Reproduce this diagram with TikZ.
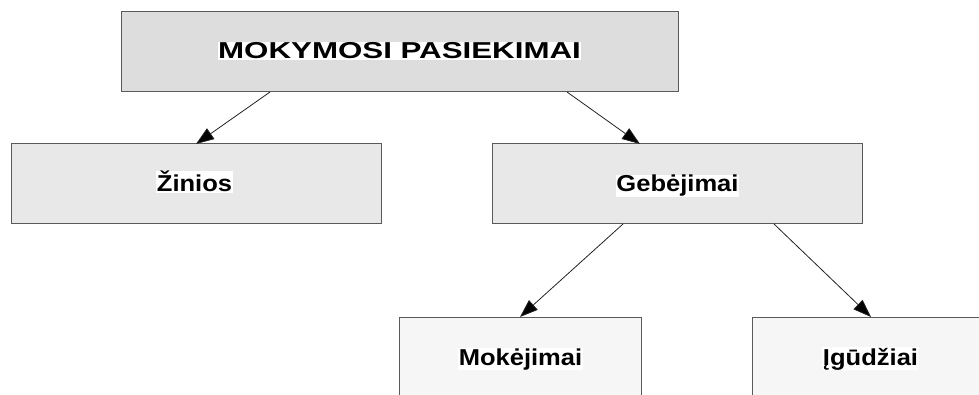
\documentclass[tikz,border=0pt]{standalone}
\usepackage{fontspec}
\setmainfont{Liberation Sans}
\usetikzlibrary{arrows.meta}
\definecolor{boxline}{HTML}{5A5A5A}
\definecolor{fillA}{HTML}{DDDDDD}
\definecolor{fillB}{HTML}{E8E8E8}
\definecolor{fillC}{HTML}{F6F6F6}
\definecolor{linkcol}{HTML}{222222}
\begin{document}
\begin{tikzpicture}[x=1pt,y=-1pt,
  box/.style={draw=boxline, line width=1pt, rectangle, inner sep=0pt, outer sep=0pt},
  lbl/.style={fill=white, inner sep=0.5pt, anchor=base,
    font=\bfseries\fontsize{23}{27}\selectfont},
  link/.style={draw=linkcol, line width=0.8pt,
    -{Triangle[length=18pt,width=13pt,fill=black]}}]
\useasboundingbox (0,0) rectangle (979,395);
\clip (0,0) rectangle (979,395);

% boxes
\node[box, fill=fillA, minimum width=557pt, minimum height=80pt] (top) at (399.5,52) {};
\node[box, fill=fillB, minimum width=370pt, minimum height=80pt] (zin) at (196,184) {};
\node[box, fill=fillB, minimum width=370pt, minimum height=80pt] (geb) at (677,184) {};
\node[box, fill=fillC, minimum width=242pt, minimum height=80pt] (mok) at (520,357) {};
\node[box, fill=fillC, minimum width=242pt, minimum height=80pt] (igu) at (873,357) {};

% labels
\node[lbl] (ttop) at (399.5,59) {\scalebox{1.36}[1]{MOKYMOSI PASIEKIMAI}};
\node[lbl] (tzin) at (194.5,192) {\scalebox{1.11}[1]{Žinios}};
\node[lbl] (tgeb) at (677.5,192) {\scalebox{1.11}[1]{Gebėjimai}};
\node[lbl] (tmok) at (520.5,365) {\scalebox{1.11}[1]{Mokėjimai}};
\node[lbl] (tigu) at (870.5,365) {\scalebox{1.11}[1]{Įgūdžiai}};

% connectors
\draw[link] ([xshift=149pt]top.south west) -- (zin.north);
\draw[link] ([xshift=-111pt]top.south east) -- ([xshift=-37pt]geb.north);
\draw[link] ([xshift=131pt]geb.south west) -- (mok.north);
\draw[link] ([xshift=-88pt]geb.south east) -- ([xshift=-2pt]igu.north);
\end{tikzpicture}
\end{document}
